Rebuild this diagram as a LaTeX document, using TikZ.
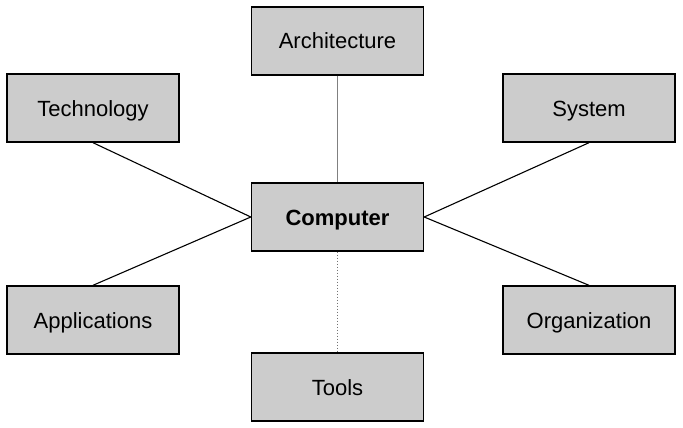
\documentclass[tikz,border=0pt]{standalone}
\usepackage{fontspec}
\setmainfont{Liberation Sans}
\begin{document}
\begin{tikzpicture}[x=1pt,y=-1pt,
  box/.style={draw=black,fill=black!20,line width=1.4pt,minimum width=172pt,minimum height=68pt,inner sep=0pt,text height=20pt,text depth=4pt,font=\fontsize{22}{26}\selectfont},
  link/.style={line width=1.1pt,black},
  graylink/.style={line width=1.4pt,black!50},
  dotlink/.style={line width=1.3pt,black!55,dash pattern=on 1.5pt off 1.5pt}]
\useasboundingbox (0,0) rectangle (683,428);
\node[box] (arch) at (337.5,41) {Architecture};
\node[box] (tech) at (93,108) {Technology};
\node[box] (sys) at (589,108) {System};
\node[box,font=\fontsize{22}{26}\selectfont\bfseries] (comp) at (337.5,217) {Computer};
\node[box] (app) at (93,320) {Applications};
\node[box] (org) at (589,320) {Organization};
\node[box] (tools) at (337.5,387) {Tools};
\draw[graylink] (arch.south) -- (comp.north);
\draw[link] (tech.south) -- (comp.west);
\draw[link] (app.north) -- (comp.west);
\draw[link] (sys.south) -- (comp.east);
\draw[link] (org.north) -- (comp.east);
\draw[dotlink] (comp.south) -- (tools.north);
\end{tikzpicture}
\end{document}
